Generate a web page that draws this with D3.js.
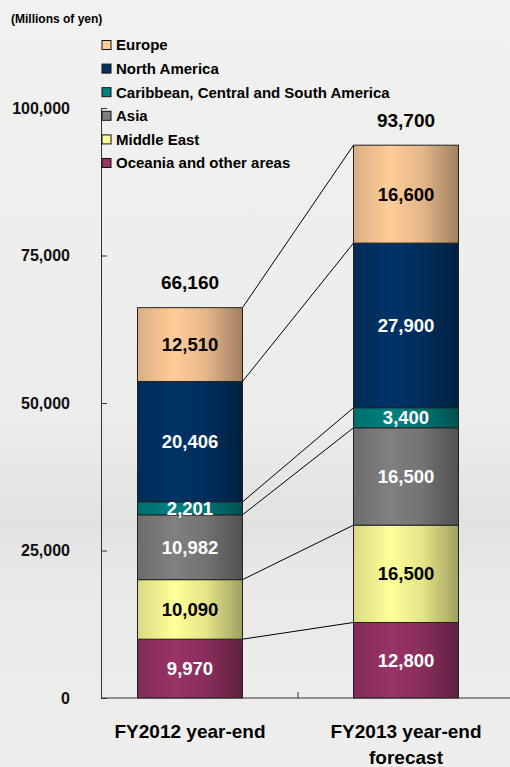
<!DOCTYPE html>
<html>
<head>
<meta charset="utf-8">
<script src="https://cdn.jsdelivr.net/npm/d3@7"></script>
<style>
  body { margin: 0; background: #efefed; }
  svg { display: block; font-family: "Liberation Sans", Arial, sans-serif; }
</style>
</head>
<body>
<div id="chart"></div>
<script>
// data
const categories = ["FY2012 year-end", "FY2013 year-end forecast"];
const regions = ["Oceania and other areas", "Middle East", "Asia", "Caribbean, Central and South America", "North America", "Europe"];
const fy2012 = [9970, 10090, 10982, 2201, 20406, 12510];
const fy2013 = [12800, 16500, 16500, 3400, 27900, 16600];
const totals = [66160, 93700];
const yTicks = [0, 25000, 50000, 75000, 100000];
const colors = ["#993366", "#ffff99", "#808080", "#008080", "#003366", "#ffcc99"];
const labelColors = ["#fff", "#000", "#fff", "#fff", "#fff", "#000"];

const width = 510, height = 767;
const svg = d3.select("#chart").append("svg")
    .attr("width", width)
    .attr("height", height);

// background
const bg = svg.append("defs");
const bgGrad = bg.append("linearGradient").attr("id", "bg").attr("x1", 0).attr("x2", 0).attr("y1", 0).attr("y2", 1);
bgGrad.append("stop").attr("offset", "0%").attr("stop-color", "#f1f1ef");
bgGrad.append("stop").attr("offset", "55%").attr("stop-color", "#ececea");
bgGrad.append("stop").attr("offset", "68%").attr("stop-color", "#e2e2e0");
bgGrad.append("stop").attr("offset", "76%").attr("stop-color", "#e9e9e7");
bgGrad.append("stop").attr("offset", "100%").attr("stop-color", "#eeeeec");
svg.append("rect").attr("width", width).attr("height", height).attr("fill", "url(#bg)");

// bar gradients (cylinder-ish shading)
colors.forEach((c, i) => {
    const g = bg.append("linearGradient").attr("id", "g" + i);
    g.append("stop").attr("offset", "0%").attr("stop-color", d3.color(c).darker(0.45));
    g.append("stop").attr("offset", "35%").attr("stop-color", c);
    g.append("stop").attr("offset", "65%").attr("stop-color", d3.color(c).darker(0.3));
    g.append("stop").attr("offset", "100%").attr("stop-color", d3.color(c).darker(1.3));
});

const x = d3.scaleBand().domain(categories).range([82, 514]);
const barW = 105;
const y = d3.scaleLinear().domain([0, 100000]).range([698, 108]);

// stack
const series = [fy2012, fy2013];
const stacks = series.map(vals => {
    let acc = 0;
    return vals.map(v => { const s = { y0: acc, y1: acc + v, v: v }; acc += v; return s; });
});

const bx = (i) => x(categories[i]) + x.bandwidth() / 2;

// connector lines between the tops of each segment
const edges = [];
for (let k = 0; k < regions.length; k++) {
    edges.push([stacks[0][k].y1, stacks[1][k].y1]);
}
svg.append("g").selectAll("line")
    .data(edges)
    .enter()
    .append("line")
    .attr("x1", bx(0) + barW / 2)
    .attr("x2", bx(1) - barW / 2)
    .attr("y1", d => y(d[0]))
    .attr("y2", d => y(d[1]))
    .attr("stroke", "#000")
    .attr("stroke-width", 1);

// bars
stacks.forEach((st, i) => {
    const g = svg.append("g");
    g.selectAll("rect")
        .data(st)
        .enter()
        .append("rect")
        .attr("x", bx(i) - barW / 2)
        .attr("width", barW)
        .attr("y", d => y(d.y1))
        .attr("height", d => y(d.y0) - y(d.y1))
        .attr("fill", (d, k) => "url(#g" + k + ")")
        .attr("stroke", "#222")
        .attr("stroke-width", 1);
    g.selectAll("text")
        .data(st)
        .enter()
        .append("text")
        .attr("x", bx(i))
        .attr("y", d => (y(d.y0) + y(d.y1)) / 2)
        .attr("dy", "0.36em")
        .attr("text-anchor", "middle")
        .attr("font-size", 18.5)
        .attr("font-weight", "bold")
        .attr("fill", (d, k) => labelColors[k])
        .text(d => d3.format(",")(d.v));
    // totals
    svg.append("text")
        .attr("x", bx(i))
        .attr("y", y(totals[i]) - 25)
        .attr("dy", "0.36em")
        .attr("text-anchor", "middle")
        .attr("font-size", 19)
        .attr("font-weight", "bold")
        .text(d3.format(",")(totals[i]));
});

// y axis
const yAxis = svg.append("g")
    .attr("transform", "translate(101,0)")
    .call(d3.axisLeft(y).tickValues(yTicks).tickSize(-6).tickFormat(d3.format(",")));
yAxis.select(".domain").attr("stroke", "#333");
yAxis.selectAll(".tick line").attr("stroke", "#333");
yAxis.selectAll(".tick text")
    .attr("x", -31)
    .attr("font-size", 16)
    .attr("font-weight", "bold")
    .attr("font-family", "Liberation Sans, Arial, sans-serif")
    .attr("fill", "#111");

// x axis line and divider tick
svg.append("line").attr("x1", 101).attr("x2", width).attr("y1", 698).attr("y2", 698).attr("stroke", "#333");
svg.append("line")
    .attr("x1", x(categories[1])).attr("x2", x(categories[1]))
    .attr("y1", 698).attr("y2", 692).attr("stroke", "#333");

// category labels
categories.forEach((c, i) => {
    const t = svg.append("text")
        .attr("x", bx(i))
        .attr("y", 738)
        .attr("text-anchor", "middle")
        .attr("font-size", 19)
        .attr("font-weight", "bold");
    const parts = i == 1 ? ["FY2013 year-end", "forecast"] : [c];
    parts.forEach((p, j) => {
        t.append("tspan").attr("x", bx(i)).attr("dy", j == 0 ? 0 : 26).text(p);
    });
});

// unit label
svg.append("text")
    .attr("x", 11).attr("y", 23)
    .attr("font-size", 12)
    .attr("font-weight", "bold")
    .text("(Millions of yen)");

// legend, top to bottom: Europe first
const legendItems = regions.map((r, k) => ({ name: r, k: k })).reverse();
const legend = svg.append("g");
legendItems.forEach((d, j) => {
    const ly = 45 + j * 23.6;
    legend.append("rect")
        .attr("x", 102).attr("y", ly - 4.5)
        .attr("width", 9).attr("height", 9)
        .attr("fill", colors[d.k])
        .attr("stroke", "#111").attr("stroke-width", 1);
    legend.append("text")
        .attr("x", 116).attr("y", ly)
        .attr("dy", "0.36em")
        .attr("font-size", 15)
        .attr("font-weight", "bold")
        .text(d.name);
});
</script>
</body>
</html>
